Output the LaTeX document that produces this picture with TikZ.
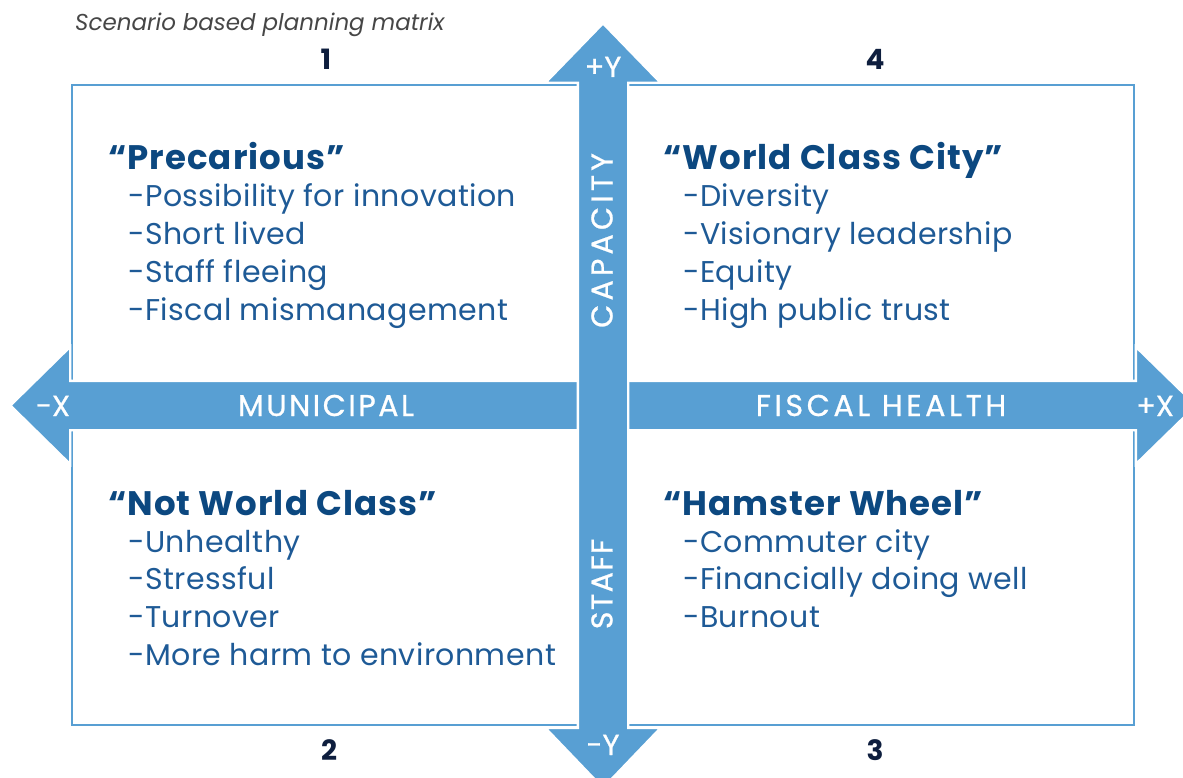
\documentclass[tikz,border=0pt]{standalone}
\usepackage{fontspec}
\setmainfont{Poppins}
\definecolor{arrowblue}{RGB}{88,159,211}
\definecolor{headblue}{RGB}{12,72,128}
\definecolor{bodyblue}{RGB}{30,90,150}
\definecolor{numnavy}{RGB}{14,30,62}
\definecolor{titlegray}{RGB}{70,70,70}
\tikzset{
  boxline/.style={draw=arrowblue, line width=2.3pt},
  bigarrow/.style={fill=arrowblue, draw=white, line width=2.3pt, line join=miter},
  headtxt/.style={anchor=base west, inner sep=0pt, text=headblue, font=\fontsize{34}{40}\selectfont\bfseries\addfontfeature{LetterSpace=3}},
  bodytxt/.style={anchor=base west, inner sep=0pt, text=bodyblue, font=\fontsize{30}{36}\selectfont\addfontfeature{LetterSpace=1.5}},
  numtxt/.style={anchor=base, inner sep=0pt, text=numnavy, font=\fontsize{28}{34}\selectfont\bfseries},
  axistxt/.style={anchor=base, inner sep=0pt, text=white, font=\fontsize{29}{34}\selectfont\addfontfeature{FakeBold=0.8}},
  axisword/.style={anchor=base, inner sep=0pt, text=white, font=\fontsize{30}{36}\selectfont\addfontfeature{LetterSpace=#1,FakeBold=0.8}},
}
\begin{document}
\begin{tikzpicture}[x=1pt,y=-1pt]
\useasboundingbox (0,0) rectangle (1183,778);
% frame
\draw[boxline] (72,85) rectangle (1134,725);
% horizontal arrow
\path[bigarrow] (10.4,405.5) -- (70.15,346.85) -- (70.15,380.85) -- (1135.85,380.85) -- (1135.85,346.85) -- (1196,405.5) -- (1135.85,464.15) -- (1135.85,430.15) -- (70.15,430.15) -- (70.15,464.15) -- cycle;
% vertical arrow
\path[bigarrow] (603,23.4) -- (660.65,82.85) -- (628.15,82.85) -- (628.15,727.85) -- (660.65,727.85) -- (603,788) -- (545.35,727.85) -- (577.85,727.85) -- (577.85,82.85) -- (545.35,82.85) -- cycle;
% title
\node[anchor=base west, inner sep=0pt, text=titlegray, font=\fontsize{23}{28}\selectfont\itshape] (title) at (75,31) {Scenario based planning matrix};
% numbers
\node[numtxt] (n1) at (326,70) {1};
\node[numtxt] (n4) at (875,70) {4};
\node[numtxt] (n2) at (329,760) {2};
\node[numtxt] (n3) at (875,760) {3};
% axis labels
\node[axistxt] (py) at (603,77) {+Y};
\node[axistxt] (my) at (603,755) {-Y};
\node[axistxt] (mx) at (53,416) {-X};
\node[axistxt] (px) at (1155,416) {+X};
\node[axisword=8.5] (mun) at (326,416) {MUNICIPAL};
\node[axisword=12] (fis) at (881,416) {FISCAL HEALTH};
\node[axisword=14, anchor=center, rotate=90] (cap) at (602,240.5) {CAPACITY};
\node[axisword=5, anchor=center, rotate=90] (stf) at (602,584) {STAFF};
% quadrant 1
\node[headtxt] (h1) at (108,170) {“Precarious”};
\node[bodytxt] (b11) at (128,207) {-Possibility for innovation};
\node[bodytxt] (b12) at (128,244.7) {-Short lived};
\node[bodytxt] (b13) at (128,282.4) {-Staff fleeing};
\node[bodytxt] (b14) at (128,320) {-Fiscal mismanagement};
% quadrant 4
\node[headtxt] (h4) at (663,170) {“World Class City”};
\node[bodytxt] (b41) at (683,207) {-Diversity};
\node[bodytxt] (b42) at (683,244.7) {-Visionary leadership};
\node[bodytxt] (b43) at (683,282.4) {-Equity};
\node[bodytxt] (b44) at (683,320) {-High public trust};
% quadrant 2
\node[headtxt] (h2) at (108,515) {“Not World Class”};
\node[bodytxt] (b21) at (128,552) {-Unhealthy};
\node[bodytxt] (b22) at (128,589.7) {-Stressful};
\node[bodytxt] (b23) at (128,627.4) {-Turnover};
\node[bodytxt] (b24) at (128,665) {-More harm to environment};
% quadrant 3
\node[headtxt] (h3) at (663,515) {“Hamster Wheel”};
\node[bodytxt] (b31) at (683,552) {-Commuter city};
\node[bodytxt] (b32) at (683,589.7) {-Financially doing well};
\node[bodytxt] (b33) at (683,627.4) {-Burnout};
\end{tikzpicture}
\end{document}
